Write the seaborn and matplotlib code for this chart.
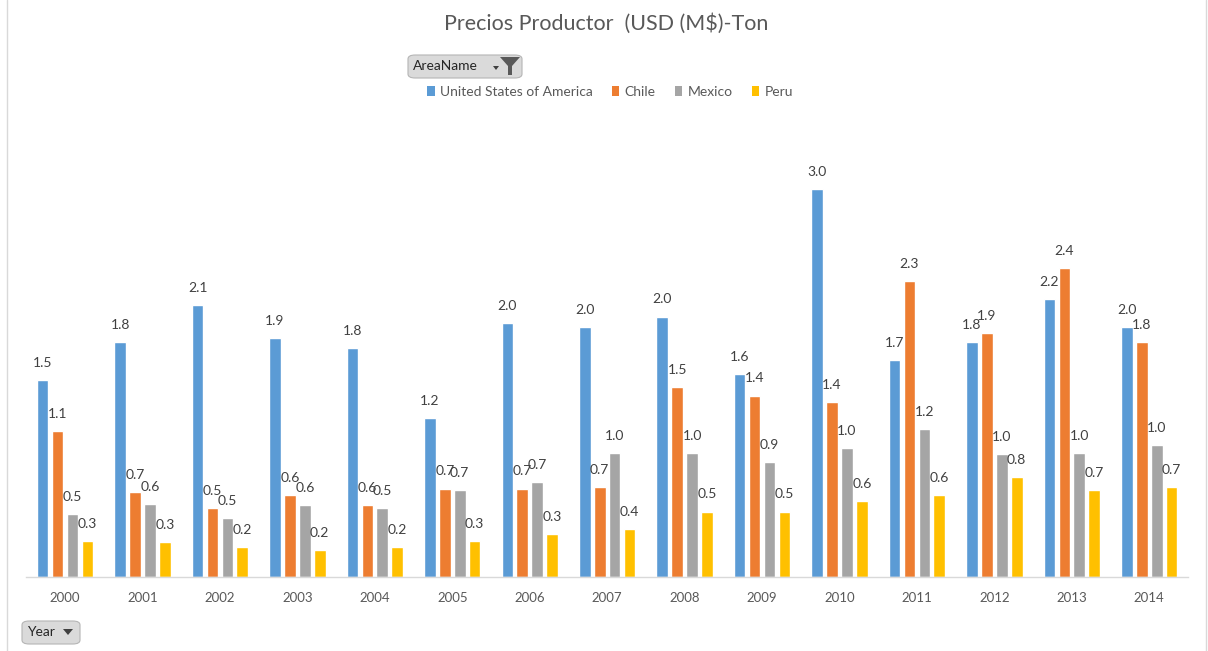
import matplotlib
matplotlib.use("Agg")
import matplotlib.pyplot as plt
import numpy as np
import pandas as pd
import seaborn as sns
from matplotlib.patches import Patch, FancyBboxPatch, Polygon
from matplotlib.lines import Line2D

# ---------------- data ----------------
years = [str(y) for y in range(2000, 2015)]
countries = ["United States of America", "Chile", "Mexico", "Peru"]
usa    = [1.54, 1.84, 2.13, 1.87, 1.79, 1.24, 1.99, 1.96, 2.04, 1.59, 3.04, 1.70, 1.84, 2.18, 1.96]
chile  = [1.14, 0.66, 0.54, 0.64, 0.56, 0.69, 0.69, 0.70, 1.49, 1.42, 1.37, 2.32, 1.91, 2.42, 1.84]
mexico = [0.49, 0.57, 0.46, 0.56, 0.54, 0.68, 0.74, 0.97, 0.97, 0.90, 1.01, 1.16, 0.96, 0.97, 1.03]
peru   = [0.28, 0.27, 0.23, 0.21, 0.23, 0.28, 0.33, 0.37, 0.51, 0.51, 0.59, 0.64, 0.78, 0.68, 0.70]
colors = ["#5B9BD5", "#ED7D31", "#A5A5A5", "#FFC000"]
title = "Precios Productor  (USD (M$)-Ton"
filter_label = "AreaName"
axis_button_label = "Year"

df = pd.DataFrame({
    "Year": years * 4,
    "Country": np.repeat(countries, len(years)),
    "Value": usa + chile + mexico + peru,
})

# ---------------- style ----------------
sns.set_style("white")
plt.rcParams["font.family"] = ["Lato", "DejaVu Sans"]

W, H = 1208, 651
fig = plt.figure(figsize=(W / 100, H / 100), dpi=100)


def fx(x):
    return x / W


def fy(y):
    return 1 - y / H


ax_left, ax_right, ax_bottom, ax_top = 26.3, 1188, 576.5, 130.5
ax = fig.add_axes([fx(ax_left), fy(ax_bottom), fx(ax_right - ax_left), (ax_bottom - ax_top) / H])

sns.barplot(data=df, x="Year", y="Value", hue="Country", order=years,
            hue_order=countries, palette=colors, width=0.77, gap=0.22,
            errorbar=None, saturation=1, legend=False, ax=ax)

for c in ax.containers:
    ax.bar_label(c, fmt="{:.1f}", padding=8, fontsize=10, color="#404040")

ax.set_ylim(0, 3.5)
ax.set_xlim(-0.5, len(years) - 0.5)
ax.set_xlabel("")
ax.set_ylabel("")
ax.set_yticks([])
for s in ["left", "right", "top"]:
    ax.spines[s].set_visible(False)
ax.spines["bottom"].set_color("#D9D9D9")
ax.spines["bottom"].set_linewidth(1.0)
ax.tick_params(axis="x", length=0, pad=11, labelsize=9.5, labelcolor="#595959")
ax.patch.set_alpha(0)

# title
fig.text(fx(606), fy(24), title, ha="center", va="center", fontsize=15.5, color="#595959")

# legend
handles = [Patch(facecolor=col, edgecolor="none") for col in colors]
fig.legend(handles, countries, loc="center", bbox_to_anchor=(fx(610), fy(92)), ncol=4,
           frameon=False, fontsize=10, handlelength=0.55, handleheight=0.75,
           handletextpad=0.35, columnspacing=1.4, labelcolor="#595959")

# chart-area border lines
fig.add_artist(Line2D([fx(6.5), fx(6.5)], [0, 1], color="#D9D9D9", lw=1))
fig.add_artist(Line2D([fx(1205.5), fx(1205.5)], [0, 1], color="#D9D9D9", lw=1))


# field buttons
def button(x0, y0, x1, y1):
    p = FancyBboxPatch((fx(x0), fy(y1)), fx(x1 - x0), (y1 - y0) / H,
                       boxstyle="round,pad=0,rounding_size=0.006",
                       facecolor="#DADADA", edgecolor="#B5B5B5", lw=0.8,
                       transform=fig.transFigure)
    fig.add_artist(p)


button(408, 55, 522, 78)
fig.text(fx(413), fy(66.5), filter_label, ha="left", va="center", fontsize=10, color="#262626")
fig.add_artist(Polygon([(fx(493), fy(66)), (fx(499), fy(66)), (fx(496), fy(70))],
                       closed=True, facecolor="#404040", edgecolor="none", transform=fig.transFigure))
fig.add_artist(Polygon([(fx(500), fy(57)), (fx(520), fy(57)), (fx(512), fy(66)),
                        (fx(512), fy(75)), (fx(508), fy(75)), (fx(508), fy(66))],
                       closed=True, facecolor="#595959", edgecolor="none", transform=fig.transFigure))

button(22, 621, 80, 644)
fig.text(fx(27), fy(632.5), axis_button_label, ha="left", va="center", fontsize=10, color="#262626")
fig.add_artist(Polygon([(fx(63), fy(629)), (fx(73), fy(629)), (fx(68), fy(635))],
                       closed=True, facecolor="#404040", edgecolor="none", transform=fig.transFigure))

fig.savefig("out.png", dpi=100, facecolor="white")
